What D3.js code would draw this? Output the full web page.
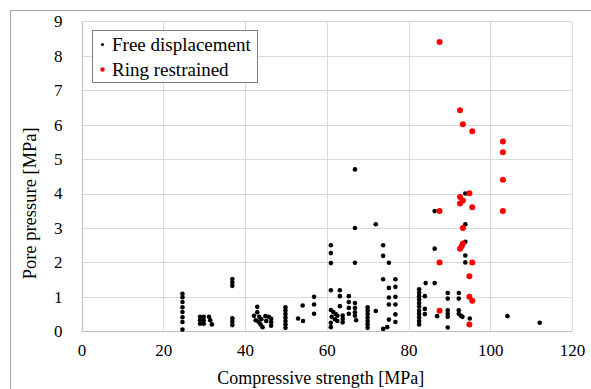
<!DOCTYPE html>
<html>
<head>
<meta charset="utf-8">
<script src="https://cdn.jsdelivr.net/npm/d3@7"></script>
<style>
  html, body { margin: 0; padding: 0; background: #fff; }
  #chart { width: 591px; height: 389px; overflow: hidden; }
  text { font-family: "Liberation Serif", "Times New Roman", serif; fill: #000; }
</style>
</head>
<body>
<div id="chart"></div>
<script>
// Free displacement: [compressive strength, pore pressure]
const freeDisplacement = [
  [24.7, 1.09], [24.7, 0.99], [24.7, 0.85], [24.7, 0.70], [24.7, 0.56], [24.7, 0.41], [24.7, 0.27], [24.7, 0.05],
  [29.0, 0.42], [29.0, 0.32], [29.0, 0.22], [29.9, 0.42], [29.9, 0.32], [29.9, 0.22],
  [31.2, 0.42], [31.5, 0.32], [31.9, 0.20],
  [36.9, 1.52], [36.9, 1.42], [36.9, 1.32], [36.9, 0.38], [36.9, 0.28], [36.9, 0.18],
  [43.0, 0.71], [43.0, 0.55], [42.2, 0.45], [43.5, 0.42], [42.6, 0.32], [43.3, 0.28], [44.0, 0.35], [43.8, 0.20], [44.3, 0.12],
  [45.0, 0.44], [45.8, 0.42], [46.4, 0.36], [46.4, 0.26], [46.4, 0.16], [45.2, 0.30],
  [49.9, 0.70], [49.9, 0.60], [49.9, 0.50], [49.9, 0.40], [49.9, 0.30], [49.9, 0.20], [49.9, 0.10],
  [54.1, 0.75], [53.0, 0.37], [54.2, 0.30],
  [56.9, 1.00], [56.9, 0.78], [56.9, 0.51],
  [61.0, 2.50], [61.0, 2.27], [61.0, 1.98], [61.0, 1.19],
  [61.0, 0.62], [61.6, 0.56], [62.2, 0.50], [62.6, 0.45], [61.2, 0.42], [62.0, 0.35], [62.6, 0.30], [61.0, 0.25], [61.0, 0.12],
  [63.2, 1.19], [63.2, 1.02], [63.2, 0.73], [63.9, 0.46], [63.9, 0.36], [63.9, 0.26],
  [65.4, 1.02], [65.4, 0.85], [65.4, 0.68], [65.4, 0.51],
  [66.9, 4.70], [66.9, 3.00], [66.9, 1.99], [66.9, 0.82], [66.9, 0.68], [66.9, 0.55], [66.9, 0.45], [67.2, 0.32],
  [70.0, 0.70], [70.0, 0.60], [70.0, 0.50], [70.0, 0.40], [70.0, 0.30], [70.0, 0.20], [70.0, 0.10],
  [72.0, 3.11], [72.0, 0.59],
  [73.8, 2.50], [73.8, 2.19], [73.8, 1.51], [73.8, 0.07],
  [75.2, 1.99], [75.2, 1.26], [75.2, 0.98], [75.2, 0.78], [75.2, 0.34], [74.8, 0.12],
  [76.8, 1.51], [76.8, 1.29], [76.8, 1.00], [76.8, 0.78], [76.8, 0.49], [76.8, 0.27],
  [82.6, 1.22], [82.6, 1.12], [82.6, 1.02], [82.6, 0.92], [82.6, 0.82], [82.6, 0.72], [82.6, 0.60], [82.6, 0.50], [82.6, 0.40], [82.6, 0.30], [82.6, 0.20],
  [84.0, 1.02], [84.0, 0.65], [84.0, 0.50], [84.2, 1.40],
  [86.4, 3.49], [86.4, 2.40], [86.4, 1.40], [87.0, 0.44],
  [89.6, 1.11], [89.6, 0.95], [89.6, 0.61], [89.6, 0.51], [89.6, 0.42], [89.6, 0.11],
  [92.3, 1.11], [92.3, 0.95], [92.3, 0.61], [92.3, 0.51], [92.8, 0.45], [93.2, 0.42],
  [93.9, 4.00], [93.9, 3.11], [93.9, 2.60], [93.9, 2.20], [93.9, 2.00],
  [95.0, 0.37], [104.2, 0.44], [112.1, 0.25]
];

// Ring restrained: [compressive strength, pore pressure]
const ringRestrained = [
  [87.6, 8.40], [92.6, 6.42], [93.3, 6.01], [95.6, 5.81],
  [103.1, 5.51], [103.1, 5.20], [103.1, 4.40], [103.1, 3.49],
  [94.9, 4.01], [92.6, 3.90], [93.3, 3.80], [92.6, 3.71], [87.6, 3.49], [95.6, 3.60],
  [93.3, 3.00], [92.6, 2.40], [93.0, 2.47], [93.3, 2.55],
  [87.6, 2.00], [95.6, 2.00], [94.9, 1.60], [94.9, 1.00], [95.6, 0.89], [87.6, 0.60], [94.9, 0.20]
];

const xTicks = [0, 20, 40, 60, 80, 100, 120];
const yTicks = [0, 1, 2, 3, 4, 5, 6, 7, 8, 9];

const legendItems = [
  { label: "Free displacement", color: "#000000", r: 1.6 },
  { label: "Ring restrained", color: "#ff0000", r: 2.2 }
];

const WIDTH = 591, HEIGHT = 389;
const PLOT = { left: 81.5, right: 572, top: 21.3, bottom: 331.3 };

let svg = d3.select("#chart")
  .append("svg")
  .attr("width", WIDTH)
  .attr("height", HEIGHT);

// chart frame (runs off the picture to the right and bottom)
svg.append("rect")
  .attr("x", 10.5).attr("y", 10.5)
  .attr("width", 700).attr("height", 500)
  .attr("fill", "#fff")
  .attr("stroke", "#a6a6a6");

let x = d3.scaleLinear().domain([0, 120]).range([PLOT.left, PLOT.right]);
let y = d3.scaleLinear().domain([0, 9]).range([PLOT.bottom, PLOT.top]);

// gridlines
svg.append("g")
  .selectAll("line")
  .data(yTicks)
  .enter()
  .append("line")
  .attr("x1", PLOT.left).attr("x2", PLOT.right)
  .attr("y1", d => Math.round(y(d)) + 0.5).attr("y2", d => Math.round(y(d)) + 0.5)
  .attr("stroke", d => d === 0 ? "#bfbfbf" : "#d9d9d9");

svg.append("g")
  .selectAll("line")
  .data(xTicks)
  .enter()
  .append("line")
  .attr("x1", d => Math.round(x(d)) + 0.5).attr("x2", d => Math.round(x(d)) + 0.5)
  .attr("y1", PLOT.top).attr("y2", PLOT.bottom)
  .attr("stroke", d => d === 0 ? "#bfbfbf" : "#d9d9d9");

// axes (labels only, Excel style)
let xAxis = svg.append("g")
  .attr("transform", `translate(0,${PLOT.bottom})`)
  .call(d3.axisBottom(x).tickValues(xTicks).tickSize(0).tickPadding(13));
xAxis.select(".domain").remove();
xAxis.selectAll("text").style("font-size", "17px").attr("font-family", null);

let yAxis = svg.append("g")
  .attr("transform", `translate(${PLOT.left},0)`)
  .call(d3.axisLeft(y).tickValues(yTicks).tickSize(0).tickPadding(19));
yAxis.select(".domain").remove();
yAxis.selectAll("text").style("font-size", "17px").attr("font-family", null);

// axis titles
svg.append("text")
  .attr("x", (PLOT.left + PLOT.right) / 2 - 6)
  .attr("y", 384)
  .attr("text-anchor", "middle")
  .style("font-size", "18px")
  .text("Compressive strength [MPa]");

svg.append("text")
  .attr("transform", `translate(36,${(PLOT.top + PLOT.bottom) / 2 + 27}) rotate(-90)`)
  .attr("text-anchor", "middle")
  .style("font-size", "18.5px")
  .text("Pore pressure [MPa]");

// points
svg.append("g")
  .selectAll("circle")
  .data(freeDisplacement)
  .enter()
  .append("circle")
  .attr("cx", d => x(d[0]))
  .attr("cy", d => y(d[1]))
  .attr("r", 2.3)
  .attr("fill", "#000");

svg.append("g")
  .selectAll("circle")
  .data(ringRestrained)
  .enter()
  .append("circle")
  .attr("cx", d => x(d[0]))
  .attr("cy", d => y(d[1]))
  .attr("r", 3)
  .attr("fill", "#ff0000");

// legend
let legend = svg.append("g").attr("transform", "translate(92.5,30.5)");
legend.append("rect")
  .attr("width", 165).attr("height", 52)
  .attr("fill", "#fff")
  .attr("stroke", "#808080");

let item = legend.selectAll(".item")
  .data(legendItems)
  .enter()
  .append("g")
  .attr("transform", (d, i) => `translate(0,${14 + i * 25})`);
item.append("circle")
  .attr("cx", 10).attr("cy", 0)
  .attr("r", d => d.r)
  .attr("fill", d => d.color);
item.append("text")
  .attr("x", 19.5).attr("y", 6)
  .style("font-size", "19px")
  .text(d => d.label);
</script>
</body>
</html>
